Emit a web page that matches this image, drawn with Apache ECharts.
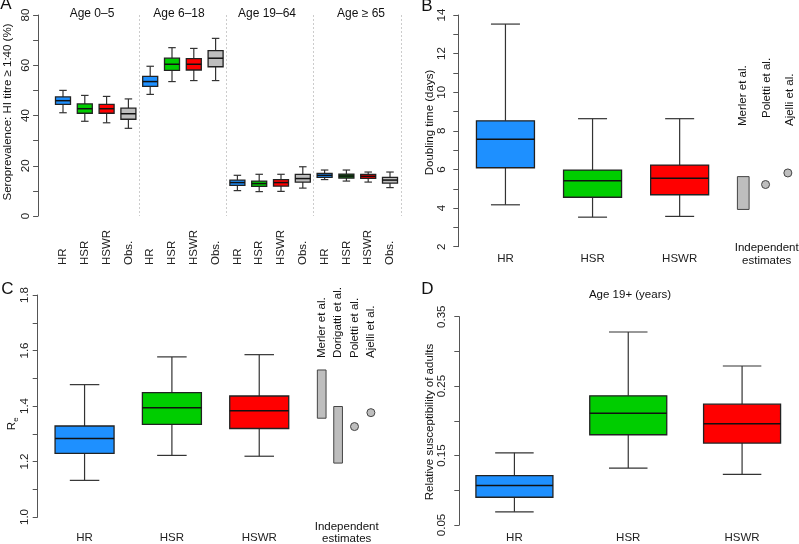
<!DOCTYPE html>
<html>
<head>
<meta charset="utf-8">
<script src="https://cdn.jsdelivr.net/npm/echarts@6/dist/echarts.min.js"></script>
<style>
html, body { margin: 0; padding: 0; background: #fff; }
#main { width: 799px; height: 544px; }
</style>
</head>
<body>
<div id="main"></div>
<script>
var FONT = '"Liberation Sans", Arial, sans-serif';
var FS = 11.5;

// A: seroprevalence per age group, boxes are [min, q1, median, q3, max]
var ageGroups = ['Age 0–5', 'Age 6–18', 'Age 19–64', 'Age ≥ 65'];
var modelsA = ['HR', 'HSR', 'HSWR', 'Obs.'];
var seroHR   = [[41.1, 44.4, 45.9, 47.4, 50.0], [48.4, 51.6, 53.5, 55.6, 59.6], [10.1, 12.2, 13.3, 14.3, 16.2], [14.5, 15.4, 16.2, 17.0, 18.3]];
var seroHSR  = [[37.7, 40.9, 42.7, 44.6, 48.0], [53.5, 58.0, 60.4, 62.8, 67.0], [9.7, 11.8, 12.9, 13.9, 16.6], [13.9, 15.1, 15.9, 16.7, 18.3]];
var seroHSWR = [[37.1, 40.9, 42.7, 44.4, 47.6], [53.9, 58.1, 60.4, 62.6, 66.7], [9.8, 11.9, 13.3, 14.5, 16.6], [13.5, 15.0, 15.8, 16.6, 17.5]];
var seroObs  = [[34.9, 38.5, 40.7, 42.9, 46.6], [53.9, 59.4, 62.8, 65.8, 70.7], [11.1, 13.5, 14.9, 16.6, 19.6], [11.3, 13.1, 14.3, 15.4, 17.5]];

// B: doubling time (days)
var models = ['HR', 'HSR', 'HSWR'];
var doublingBox = [[4.17, 6.09, 7.57, 8.52, 13.53], [3.53, 4.56, 5.41, 5.97, 8.63], [3.57, 4.69, 5.54, 6.23, 8.63]];
var studiesB = ['Merler et al.', 'Poletti et al.', 'Ajelli et al.'];
var doublingRange = [[0, 3.93, 5.63]];
var doublingPoint = [[1, 5.22], [2, 5.82]];

// C: Re
var reBox = [[1.132, 1.229, 1.283, 1.328, 1.477], [1.222, 1.334, 1.394, 1.448, 1.577], [1.219, 1.319, 1.383, 1.436, 1.585]];
var studiesC = ['Merler et al.', 'Dorigatti et al.', 'Poletti et al.', 'Ajelli et al.'];
var reRange = [[0, 1.358, 1.531], [1, 1.197, 1.400]];
var rePoint = [[2, 1.328], [3, 1.378]];

// D: relative susceptibility of adults
var suscBox = [[0.069, 0.090, 0.107, 0.121, 0.154], [0.132, 0.180, 0.211, 0.236, 0.328], [0.123, 0.168, 0.196, 0.224, 0.279]];

var colorOf = { 'HR': '#1E90FF', 'HSR': '#00CD00', 'HSWR': '#FF0000', 'Obs.': '#BEBEBE' };

// build the 16 boxes of panel A
var catsA = [], dataA = [], colA = [];
ageGroups.forEach(function (g, gi) {
    [seroHR, seroHSR, seroHSWR, seroObs].forEach(function (arr, mi) {
        catsA.push(modelsA[mi]);
        dataA.push([catsA.length - 1].concat(arr[gi]));
        colA.push(gi === 3 && mi === 1 ? '#137313' : colorOf[modelsA[mi]]);
    });
});
function withIndex(rows) {
    return rows.map(function (r, i) { return [i].concat(r); });
}
var modelCols = models.map(function (m) { return colorOf[m]; });

function boxRenderer(boxW, colors) {
    return function (params, api) {
        var x = api.value(0);
        var p = [1, 2, 3, 4, 5].map(function (d) { return api.coord([x, api.value(d)]); });
        var cx = p[0][0], hw = boxW / 2, cap = boxW / 4;
        function ln(x1, y1, x2, y2, c, w) {
            return { type: 'line', shape: { x1: x1, y1: y1, x2: x2, y2: y2 }, style: { stroke: c, lineWidth: w } };
        }
        return {
            type: 'group',
            children: [
                ln(cx, p[0][1], cx, p[1][1], '#333', 1.2),
                ln(cx, p[3][1], cx, p[4][1], '#333', 1.2),
                ln(cx - cap, p[0][1], cx + cap, p[0][1], '#333', 1.2),
                ln(cx - cap, p[4][1], cx + cap, p[4][1], '#333', 1.2),
                { type: 'rect', shape: { x: cx - hw, y: p[3][1], width: boxW, height: p[1][1] - p[3][1] },
                  style: { fill: colors[params.dataIndex], stroke: '#222', lineWidth: 1.3 } },
                ln(cx - hw, p[2][1], cx + hw, p[2][1], '#111', 1.5)
            ]
        };
    };
}
function rangeRenderer(w) {
    return function (params, api) {
        var lo = api.coord([api.value(0), api.value(1)]);
        var hi = api.coord([api.value(0), api.value(2)]);
        return { type: 'rect', shape: { x: lo[0] - w / 2, y: hi[1], width: w, height: lo[1] - hi[1] },
                 style: { fill: '#BEBEBE', stroke: '#444', lineWidth: 1 } };
    };
}

function valueAxis(grid, min, max, interval, fmt, margin, offset, show) {
    return {
        type: 'value', gridIndex: grid, min: min, max: max, interval: interval, offset: offset || 0,
        show: show !== false,
        splitLine: { show: false },
        axisLine: { show: true, lineStyle: { color: '#555', width: 1 } },
        axisTick: { show: true, length: 5, lineStyle: { color: '#555' } },
        axisLabel: { rotate: 90, margin: margin, formatter: fmt, color: '#222', fontSize: FS, fontFamily: FONT }
    };
}
function catAxis(grid, cats, margin, show) {
    return {
        type: 'category', gridIndex: grid, data: cats, show: show !== false,
        axisLine: { show: false }, axisTick: { show: false }, splitLine: { show: false },
        axisLabel: { interval: 0, margin: margin, color: '#222', fontSize: FS, fontFamily: FONT }
    };
}

function txt(s, x, y, o) {
    o = o || {};
    return {
        type: 'text', x: x, y: y, rotation: o.rot || 0, silent: true,
        style: { text: s, fill: '#111', font: (o.size || FS) + 'px ' + FONT,
                 align: o.align || 'center', verticalAlign: o.va || 'middle' }
    };
}
var V = Math.PI / 2;

var xA = catAxis(0, catsA, 49);
xA.axisLabel.rotate = 90;
xA.axisLabel.align = 'left';
xA.axisLabel.verticalAlign = 'middle';
xA.splitLine = {
    show: true,
    interval: function (i) { return i === 4 || i === 8 || i === 12; },
    lineStyle: { color: '#cccccc', type: [2, 2], width: 1 }
};

var chart = echarts.init(document.getElementById('main'));
var option = {
    animation: false,
    backgroundColor: '#fff',
    textStyle: { fontFamily: FONT },
    grid: [
        { left: 52.1, top: 15, width: 348.8, height: 201 },
        { left: 461.9, top: 15, width: 261.3, height: 231.7 },
        { left: 732.1, top: 15, width: 68.3, height: 231.7 },
        { left: 40.9, top: 295, width: 262, height: 223 },
        { left: 313.5, top: 295, width: 65.6, height: 223 },
        { left: 457.5, top: 316.7, width: 349.2, height: 209.3 }
    ],
    xAxis: [
        xA,
        catAxis(1, models, 6),
        catAxis(2, studiesB, 0, false),
        catAxis(3, models, 15),
        catAxis(4, studiesC, 0, false),
        catAxis(5, models, 7)
    ],
    yAxis: [
        valueAxis(0, 0, 80, 10, function (v) { return v % 20 === 0 ? v : ''; }, 6, 14),
        valueAxis(1, 2, 14, 1, function (v) { return v % 2 === 0 ? v : ''; }, 10, 3.6),
        valueAxis(2, 2, 14, 1, null, 0, 0, false),
        valueAxis(3, 1.0, 1.8, 0.1, function (v) { return Math.round(v * 10) % 2 === 0 ? v.toFixed(1) : ''; }, 7, 3.2),
        valueAxis(4, 1.0, 1.8, 0.1, null, 0, 0, false),
        valueAxis(5, 0.05, 0.35, 0.05, function (v) { return Math.round(v * 100) % 10 === 5 ? v.toFixed(2) : ''; }, 11, -1.8)
    ],
    series: [
        { type: 'custom', xAxisIndex: 0, yAxisIndex: 0, data: dataA, encode: { x: 0, y: [1, 2, 3, 4, 5] },
          renderItem: boxRenderer(15, colA) },
        { type: 'custom', xAxisIndex: 1, yAxisIndex: 1, data: withIndex(doublingBox), encode: { x: 0, y: [1, 2, 3, 4, 5] },
          renderItem: boxRenderer(58, modelCols) },
        { type: 'custom', xAxisIndex: 2, yAxisIndex: 2, data: doublingRange, encode: { x: 0, y: [1, 2] },
          renderItem: rangeRenderer(11.7) },
        { type: 'scatter', xAxisIndex: 2, yAxisIndex: 2, data: doublingPoint, symbolSize: 8,
          itemStyle: { color: '#BEBEBE', borderColor: '#444', borderWidth: 1, opacity: 1 } },
        { type: 'custom', xAxisIndex: 3, yAxisIndex: 3, data: withIndex(reBox), encode: { x: 0, y: [1, 2, 3, 4, 5] },
          renderItem: boxRenderer(59, modelCols) },
        { type: 'custom', xAxisIndex: 4, yAxisIndex: 4, data: reRange, encode: { x: 0, y: [1, 2] },
          renderItem: rangeRenderer(8.7) },
        { type: 'scatter', xAxisIndex: 4, yAxisIndex: 4, data: rePoint, symbolSize: 8,
          itemStyle: { color: '#BEBEBE', borderColor: '#444', borderWidth: 1, opacity: 1 } },
        { type: 'custom', xAxisIndex: 5, yAxisIndex: 5, data: withIndex(suscBox), encode: { x: 0, y: [1, 2, 3, 4, 5] },
          renderItem: boxRenderer(77, modelCols) }
    ],
    graphic: [
        // panel letters
        txt('A', 6, 4, { size: 17 }),
        txt('B', 427, 6, { size: 17 }),
        txt('C', 7.5, 289, { size: 17 }),
        txt('D', 427.5, 289, { size: 17 }),
        // age group headings
        txt(ageGroups[0], 92, 14, { size: 12 }),
        txt(ageGroups[1], 179, 14, { size: 12 }),
        txt(ageGroups[2], 267, 14, { size: 12 }),
        txt(ageGroups[3], 361, 14, { size: 12 }),
        txt('Age 19+ (years)', 630, 295),
        // axis titles
        txt('Seroprevalence: HI titre ≥ 1:40 (%)', 8, 112, { rot: V }),
        txt('Doubling time (days)', 430, 122.5, { rot: V }),
        txt('Relative susceptibility of adults', 430, 422, { rot: V }),
        txt('R', 12, 426, { rot: V }),
        txt('e', 15.5, 419.5, { rot: V, size: 8 }),
        // independent estimate labels
        txt(studiesB[0], 743, 126, { rot: V, align: 'left' }),
        txt(studiesB[1], 767, 118, { rot: V, align: 'left' }),
        txt(studiesB[2], 790, 126, { rot: V, align: 'left' }),
        txt('Independent', 766.7, 248),
        txt('estimates', 766.7, 261),
        txt(studiesC[0], 321.7, 358, { rot: V, align: 'left' }),
        txt(studiesC[1], 338.3, 358, { rot: V, align: 'left' }),
        txt(studiesC[2], 354.5, 358, { rot: V, align: 'left' }),
        txt(studiesC[3], 370.7, 358, { rot: V, align: 'left' }),
        txt('Independent', 346.7, 526.7),
        txt('estimates', 346.7, 539.3)
    ]
};
chart.setOption(option);
</script>
</body>
</html>
